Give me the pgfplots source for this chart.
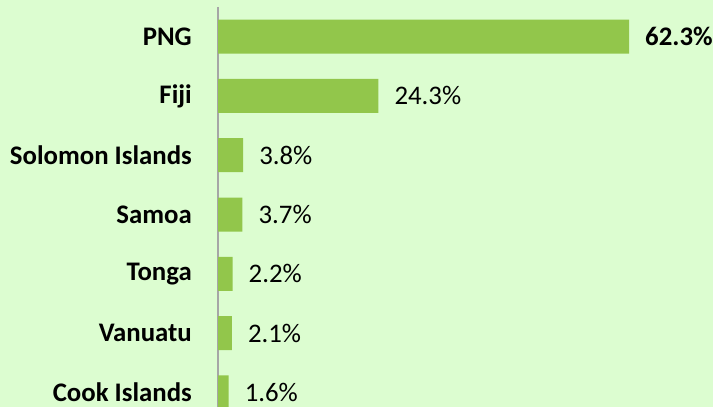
\documentclass[border=0pt]{standalone}
\usepackage{pgfplots}
\pgfplotsset{compat=1.18}
\usepackage{fontspec}
\setmainfont{Carlito}
\definecolor{bg}{HTML}{DCFDD0}
\definecolor{bar}{HTML}{92C64B}
\definecolor{axl}{HTML}{A6A6A6}
\begin{document}
\fontsize{26.8bp}{31bp}\selectfont
\begin{tikzpicture}
\path[use as bounding box] (0,0) rectangle (713bp,407bp);
\fill[bg] (0,0) rectangle (713bp,407bp);
\clip (0,0) rectangle (713bp,407bp);
\begin{axis}[
  at={(218bp,400bp)}, anchor=north west,
  scale only axis,
  width=461.8bp, height=415.1bp,
  xmin=0, xmax=70,
  ymin=-0.5, ymax=6.5,
  y dir=reverse,
  xbar, bar width=34bp, bar shift=0pt,
  axis x line=none,
  axis y line*=left,
  y axis line style={-, draw=axl, line width=1.5bp},
  ytick={0,1,2,3,4,5,6},
  yticklabels={PNG,Fiji,Solomon Islands,Samoa,Tonga,Vanuatu,Cook Islands},
  major tick length=0pt,
  yticklabel style={font=\fontsize{26.8bp}{31bp}\selectfont\bfseries, anchor=east, inner sep=0pt, xshift=-26bp},
  point meta=explicit symbolic,
  nodes near coords={\pgfplotspointmeta},
  every node near coord/.append style={font=\fontsize{26.8bp}{31bp}\selectfont, anchor=west, inner sep=0pt, xshift=16bp, text=black},
  clip=false,
]
\addplot[fill=bar, draw=none] coordinates {
  (62.3,0) [\textbf{62.3\%}]
  (24.3,1) [24.3\%]
  (3.8,2) [3.8\%]
  (3.7,3) [3.7\%]
  (2.2,4) [2.2\%]
  (2.1,5) [2.1\%]
  (1.6,6) [1.6\%]
};
\end{axis}
\end{tikzpicture}
\end{document}
